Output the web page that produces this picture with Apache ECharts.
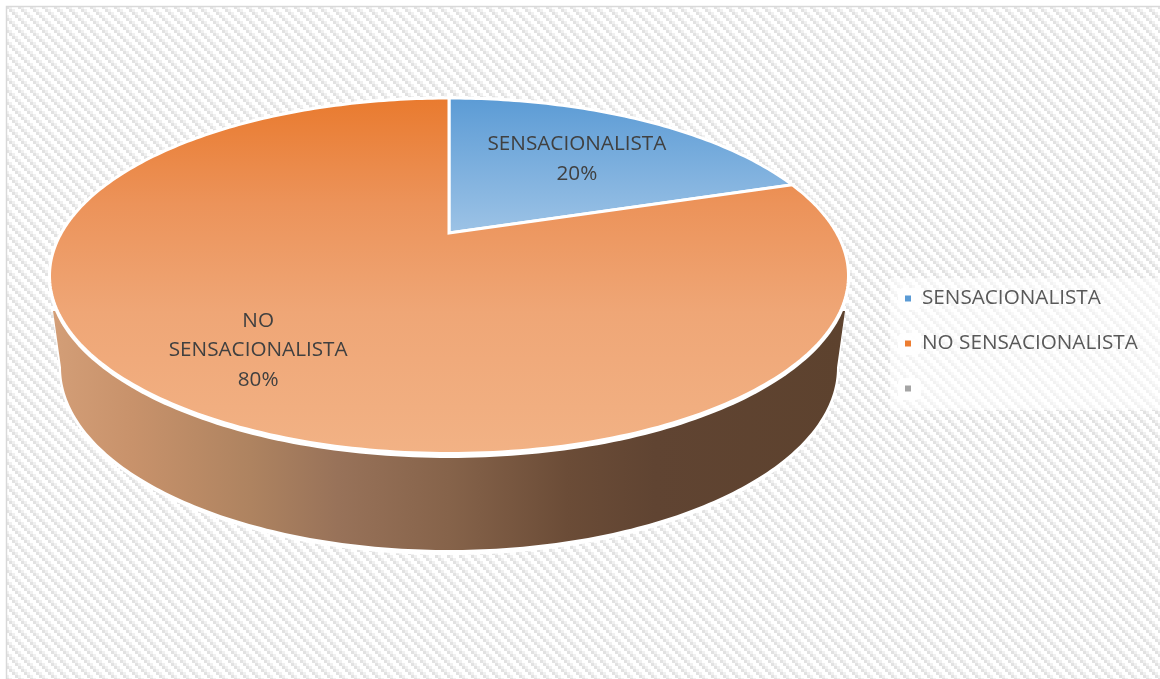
<!DOCTYPE html>
<html>
<head>
<meta charset="utf-8">
<style>html,body{margin:0;padding:0;background:#fff}#c{width:1160px;height:679px}</style>
<script src="https://cdn.jsdelivr.net/npm/echarts@6/dist/echarts.min.js"></script>
</head>
<body>
<div id="c"></div>
<script>
const categories = ['SENSACIONALISTA', 'NO SENSACIONALISTA', ' '];
const values = [20, 80, 0];
const percentLabels = ['20%', '80%', ''];
const labelLines = [['SENSACIONALISTA'], ['NO', 'SENSACIONALISTA'], []];
const legendColors = ['#5B9BD5', '#ED7D31', '#A5A5A5'];

const sliceGradients = [
  [[0, '#5B9BD5'], [1, '#9DC3E6']],
  [[0, '#E97A2E'], [0.3, '#EC935A'], [0.6, '#EFA676'], [1, '#F2B285']],
  [[0, '#A5A5A5'], [1, '#C9C9C9']]
];

const FONT = '"Open Sans", sans-serif';
const total = values.reduce((a, b) => a + b, 0);
const TAU = Math.PI * 2;

// Perspective view of a flat disc: apex of the wedges, top and bottom of the rim, half width.
function makeView(cx, apexY, top, bottom, halfWidth) {
  const c = (2 * apexY - top - bottom) / (bottom - top);
  const a = bottom * (1 + c) - apexY;
  const d = halfWidth * Math.sqrt(1 - c * c);
  return function (r, angle) {
    const X = r * Math.sin(angle), Y = -r * Math.cos(angle);
    const w = 1 + c * Y;
    return [cx + d * X / w, (apexY + a * Y) / w];
  };
}
const disc = makeView(449, 233, 98, 453.5, 399.5);
const rim = makeView(449, 233, 96.5, 458, 401);
const labelRadius = [0.63, 0.72, 0.5];
const labelDrop = [2, 4, 0];

function arcPoints(view, from, to) {
  const pts = [];
  const n = Math.max(2, Math.ceil((to - from) / TAU * 360));
  for (let i = 0; i <= n; i++) pts.push(view(1, from + (to - from) * i / n));
  return pts;
}
function lowerEllipse(cx, cy, rx, ry) {
  const pts = [];
  for (let i = 0; i <= 180; i++) {
    const t = Math.PI - i / 180 * Math.PI;
    pts.push([cx + rx * Math.cos(t), cy + ry * Math.sin(t)]);
  }
  return pts;
}

function renderWall() {
  const shoulderL = [53, 311], shoulderR = [845, 311];
  const back = [shoulderL].concat(lowerEllipse(449, 369, 390, 186)).concat([shoulderR]);
  const wall = [shoulderL].concat(lowerEllipse(449, 367.5, 388, 182.5)).concat([shoulderR]);
  return {
    type: 'group',
    children: [
      { type: 'polygon', shape: { points: back }, style: { fill: '#fff' } },
      { type: 'polygon', shape: { points: wall }, style: {
        fill: new echarts.graphic.LinearGradient(0, 0, 1, 0, [
          { offset: 0, color: '#D39E77' },
          { offset: 0.1, color: '#C8926B' },
          { offset: 0.25, color: '#AE8360' },
          { offset: 0.36, color: '#987259' },
          { offset: 0.5, color: '#86634A' },
          { offset: 0.65, color: '#6B4C37' },
          { offset: 0.76, color: '#604432' },
          { offset: 1, color: '#5D422E' }
        ])
      } },
      { type: 'polygon', shape: { points: arcPoints(rim, 0, TAU) }, style: { fill: '#fff' } }
    ]
  };
}

function renderSlice(params, api) {
  const i = api.value(0), start = api.value(1), v = api.value(2);
  if (!v) return null;
  const a0 = start / total * TAU, a1 = (start + v) / total * TAU;
  const pts = [disc(0, 0)].concat(arcPoints(disc, a0, a1));
  const lp = disc(labelRadius[i], (a0 + a1) / 2);
  const text = labelLines[i].concat([percentLabels[i]]).join('\n');
  return {
    type: 'group',
    children: [
      { type: 'polygon', shape: { points: pts }, style: {
        fill: new echarts.graphic.LinearGradient(0, 0, 0, 1,
          sliceGradients[i].map(s => ({ offset: s[0], color: s[1] }))),
        stroke: '#fff', lineWidth: 3, lineJoin: 'miter'
      } },
      { type: 'text', x: lp[0], y: lp[1] + labelDrop[i], z2: 10, style: {
        text: text, fill: '#404040', fontFamily: FONT, fontSize: 20.7,
        lineHeight: 29.8, align: 'center', verticalAlign: 'middle'
      } }
    ]
  };
}

function stripes() {
  const cv = document.createElement('canvas');
  cv.width = cv.height = 12;
  const g = cv.getContext('2d');
  g.fillStyle = '#fff'; g.fillRect(0, 0, 12, 12);
  for (let i = 0; i < 4; i++) {
    for (let j = 0; j < 4; j++) {
      const k = ((i - j) % 4 + 4) % 4;
      if (k === 0) { g.fillStyle = '#e2e2e2'; g.fillRect(i * 3, j * 3, 3, 3); }
      if (k === 1) { g.fillStyle = '#f0f0f0'; g.fillRect(i * 3, j * 3, 3, 3); }
    }
  }
  return cv;
}

let cum = 0;
const sliceSeries = categories.map((name, i) => {
  const s = {
    type: 'custom', name: name, coordinateSystem: 'none', z: 3, silent: true,
    itemStyle: { color: legendColors[i] },
    renderItem: renderSlice,
    data: [[i, cum, values[i]]]
  };
  cum += values[i];
  return s;
});

const legendBoxes = categories.map((_, i) => ({
  type: 'rect', z: 1, shape: { x: 898, y: 288 + i * 45, width: 23, height: 22, r: 5 },
  style: { fill: 'rgba(255,255,255,0.9)' }
}));

const chart = echarts.init(document.getElementById('c'), null, { renderer: 'canvas' });
chart.setOption({
  animation: false,
  backgroundColor: '#fff',
  graphic: { elements: [
    { type: 'rect', z: 0, shape: { x: 6.5, y: 6.5, width: 1170, height: 690 },
      style: { fill: { image: stripes(), repeat: 'repeat' }, stroke: '#d9d9d9', lineWidth: 1.5 } },
    { type: 'rect', z: 1, shape: { x: 890, y: 278, width: 270, height: 132 },
      style: { fill: 'rgba(255,255,255,0.55)' } }
  ].concat(legendBoxes) },
  legend: {
    orient: 'vertical', left: 905, top: 286, padding: 0,
    itemWidth: 6, itemHeight: 6, itemGap: 20, icon: 'rect',
    selectedMode: false,
    textStyle: { color: '#595959', fontFamily: FONT, fontSize: 20.7, lineHeight: 25, padding: [0, 0, 0, 6] },
    data: categories.map((name, i) => ({ name: name, itemStyle: { color: legendColors[i] } }))
  },
  series: [{
    type: 'custom', name: 'wall', coordinateSystem: 'none', z: 2, silent: true,
    renderItem: renderWall, data: [[total]]
  }].concat(sliceSeries)
});
</script>
</body>
</html>
